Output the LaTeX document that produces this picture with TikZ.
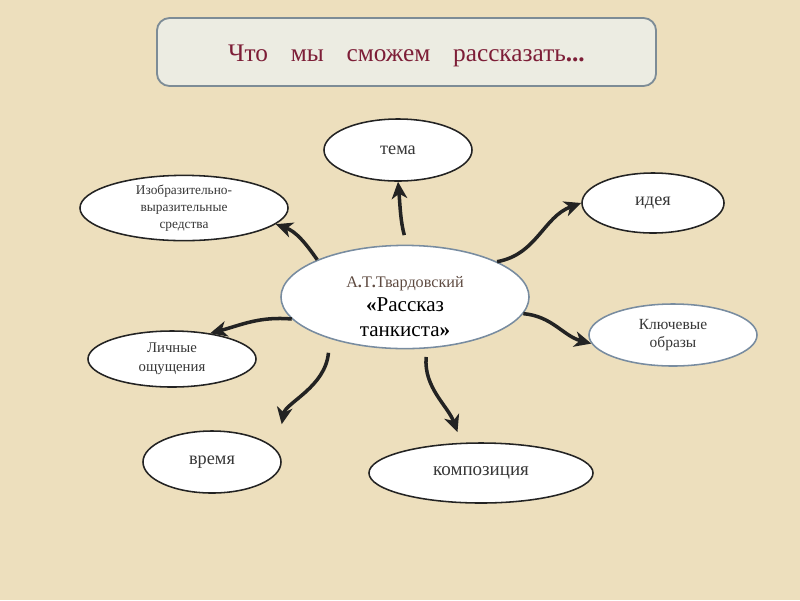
\documentclass[tikz,border=0pt]{standalone}
\usepackage{fontspec}
\setmainfont{Liberation Serif}
\usepackage{tikz}
\usetikzlibrary{shapes.geometric, arrows.meta}
\definecolor{mybg}{RGB}{237,223,189}
\definecolor{mytitle}{RGB}{125,30,55}
\definecolor{hdrgrey}{RGB}{236,236,226}
\definecolor{myframe}{RGB}{125,140,150}
\definecolor{mydark}{RGB}{35,35,35}
\definecolor{myblue}{RGB}{120,140,160}
\definecolor{mytext}{RGB}{55,55,55}
\definecolor{myauthor}{RGB}{95,75,65}
\tikzset{
  oval/.style={ellipse, draw=mydark, fill=white, line width=1.1pt,
    inner sep=0pt, align=center, text=mytext},
  blueoval/.style={oval, draw=myblue},
  arrow/.style={-{Stealth[length=12pt,width=11pt,inset=3.5pt]},
    line width=2.5pt, color=mydark}
}
\begin{document}
\begin{tikzpicture}[x=0.025cm, y=-0.025cm]
  % Background
  \fill[mybg] (0,0) rectangle (800,600);
  \useasboundingbox (0,0) rectangle (800,600);

  % Title
  \node[draw=myframe, fill=hdrgrey, rounded corners=9pt, line width=1.3pt,
    minimum width=12.475cm, minimum height=1.7cm,
    font=\fontsize{18}{22}\selectfont, text=mytitle] (title) at (406.5,52)
    {\rule{0pt}{17pt}Что\hspace{0.9em}мы\hspace{0.9em}сможем\hspace{0.9em}рассказать\textbf{...}};

  % Centre
  \node[blueoval, minimum width=6.2cm, minimum height=2.58cm, inner ysep=-8pt,
    font=\fontsize{15}{17.5}\selectfont, text=black] (main) at (405,297)
    {\rule{0pt}{21pt}{\fontsize{11.5}{12}\selectfont\color{myauthor}А\textbf{.}Т\textbf{.}Твардовский}\\[0pt]
     \textbf{«}Рассказ\\ танкиста\textbf{»}};

  % Outer ovals
  \node[oval, minimum width=3.7cm, minimum height=1.55cm,
    font=\fontsize{13}{15}\selectfont] (tema) at (398,150) {тема};
  \node[oval, minimum width=3.55cm, minimum height=1.5cm,
    font=\fontsize{13}{15}\selectfont] (ideya) at (653,203) {идея};
  \node[oval, minimum width=5.2cm, minimum height=1.55cm,
    font=\fontsize{9.5}{12}\selectfont] (sredstva) at (184,208)
    {Изобразительно-\\выразительные\\средства};
  \node[blueoval, minimum width=4.2cm, minimum height=1.55cm,
    font=\fontsize{11}{12.5}\selectfont] (obrazy) at (673,335)
    {Ключевые\\образы};
  \node[oval, minimum width=4.2cm, minimum height=1.4cm,
    font=\fontsize{10.5}{13.5}\selectfont] (oshch) at (172,359)
    {Личные\\ощущения};
  \node[oval, minimum width=3.45cm, minimum height=1.55cm,
    font=\fontsize{13}{15}\selectfont] (vremya) at (212,462) {время};
  \node[oval, minimum width=5.6cm, minimum height=1.5cm,
    font=\fontsize{13.5}{15}\selectfont] (kompoz) at (481,473) {композиция};

  % Arrows
  \draw[arrow, shorten <=7pt] (main.88) to[out=105, in=-85] (tema.south);
  \draw[arrow] (main.21) to[out=10, in=200] (ideya.west);
  \draw[arrow] (main.157) to[out=125, in=-20] (sredstva.-10);
  \draw[arrow] (main.-8) to[out=-5, in=165] (obrazy.186);
  \draw[arrow] (main.191) to[out=175, in=15] (oshch.34);
  \draw[arrow, shorten <=10pt, shorten >=19pt] (main.209) to[out=-95, in=80] (vremya.10);
  \draw[arrow, shorten <=6pt, shorten >=8pt] (main.-67) to[out=-95, in=110] (kompoz.123);
\end{tikzpicture}
\end{document}
